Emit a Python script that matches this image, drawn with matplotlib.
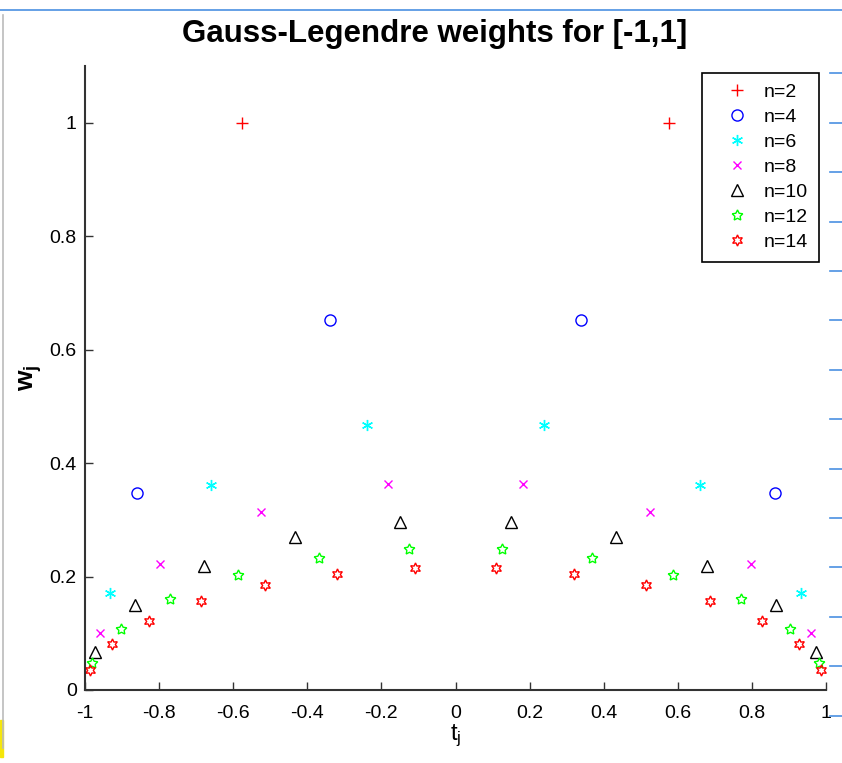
import numpy as np
import matplotlib.pyplot as plt
from matplotlib.lines import Line2D
from matplotlib.patches import Rectangle

plt.rcParams['font.family'] = ['Liberation Sans', 'DejaVu Sans']
plt.rcParams['mathtext.fontset'] = 'custom'
plt.rcParams['mathtext.rm'] = 'Liberation Sans'
plt.rcParams['mathtext.it'] = 'Liberation Sans'
plt.rcParams['mathtext.bf'] = 'Liberation Sans:bold'

# nodos y pesos
t2 = [-0.5774, 0.5774]
w2 = [1.0, 1.0]
t4 = [-0.8611, -0.3400, 0.3400, 0.8611]
w4 = [0.3479, 0.6521, 0.6521, 0.3479]
t6 = [-0.9325, -0.6612, -0.2386, 0.2386, 0.6612, 0.9325]
w6 = [0.1713, 0.3608, 0.4679, 0.4679, 0.3608, 0.1713]
t8 = [-0.9603, -0.7967, -0.5255, -0.1834, 0.1834, 0.5255, 0.7967, 0.9603]
w8 = [0.1012, 0.2224, 0.3137, 0.3627, 0.3627, 0.3137, 0.2224, 0.1012]
t10 = [-0.9739, -0.8651, -0.6794, -0.4334, -0.1489,
       0.1489, 0.4334, 0.6794, 0.8651, 0.9739]
w10 = [0.0667, 0.1495, 0.2191, 0.2693, 0.2955,
       0.2955, 0.2693, 0.2191, 0.1495, 0.0667]
t12 = [-0.9816, -0.9041, -0.7699, -0.5873, -0.3678, -0.1252,
       0.1252, 0.3678, 0.5873, 0.7699, 0.9041, 0.9816]
w12 = [0.0472, 0.1069, 0.1601, 0.2032, 0.2335, 0.2491,
       0.2491, 0.2335, 0.2032, 0.1601, 0.1069, 0.0472]
t14 = [-0.9863, -0.9284, -0.8272, -0.6873, -0.5152, -0.3191, -0.1081,
       0.1081, 0.3191, 0.5152, 0.6873, 0.8272, 0.9284, 0.9863]
w14 = [0.0351, 0.0802, 0.1215, 0.1572, 0.1855, 0.2052, 0.2153,
       0.2153, 0.2052, 0.1855, 0.1572, 0.1215, 0.0802, 0.0351]

etiquetas = ['n=2', 'n=4', 'n=6', 'n=8', 'n=10', 'n=12', 'n=14']
series = [(t2, w2), (t4, w4), (t6, w6), (t8, w8), (t10, w10), (t12, w12), (t14, w14)]
colores = ['#ff0000', '#0000ff', '#00ffff', '#ff00ff', '#000000', '#00ff00', '#ff0000']
marcadores = ['+', 'o', (6, 2, 0), 'x', '^', (5, 1, 0), (6, 1, 0)]
tamanos = [8, 8, 8, 6, 8, 8, 8]

fig = plt.figure(figsize=(8.42, 7.63), dpi=100)
ax = fig.add_axes([0.101, 0.0957, 0.880, 0.8178])

for (t, w), lab, c, mk, ms in zip(series, etiquetas, colores, marcadores, tamanos):
    lleno = mk in ('+', 'x', (6, 2, 0))
    ax.plot(t, w, linestyle='none', marker=mk, markersize=ms,
            markerfacecolor=c if lleno else 'none', markeredgecolor=c,
            markeredgewidth=1.0, label=lab)

ax.set_xlim(-1, 1)
ax.set_ylim(0, 1.1)
ax.set_xticks(np.arange(-1, 1.01, 0.2))
ax.set_xticklabels(['-1', '-0.8', '-0.6', '-0.4', '-0.2', '0', '0.2', '0.4', '0.6', '0.8', '1'])
ax.set_yticks(np.arange(0, 1.01, 0.2))
ax.set_yticklabels(['0', '0.2', '0.4', '0.6', '0.8', '1'])
ax.tick_params(direction='in', length=6, labelsize=14, width=1, color='#333333')
ax.tick_params(axis='x', pad=11)
ax.tick_params(axis='y', pad=6)
ax.spines['top'].set_visible(False)
ax.spines['right'].set_visible(False)
for s in ('left', 'bottom'):
    ax.spines[s].set_linewidth(1.5)
    ax.spines[s].set_color('#333333')

ax.set_title('Gauss-Legendre weights for [-1,1]', fontsize=22.5, fontweight='bold',
             x=0.472, pad=17)
ax.set_xlabel(r'$\mathrm{t_j}$', fontsize=17, labelpad=0)
ax.set_ylabel(r'$\mathbf{w_j}$', fontsize=19, labelpad=4)

leg = ax.legend(loc='upper right', bbox_to_anchor=(0.9906, 0.9888), borderaxespad=0,
                fontsize=14, fancybox=False, framealpha=1, edgecolor='black',
                handletextpad=0.1, borderpad=0.55, labelspacing=0.38, handlelength=2.55)
leg.get_frame().set_linewidth(1.2)

# bordes de la captura
fig.add_artist(Line2D([0, 1], [0.987, 0.987], color='#4a90e2', lw=1.2))
fig.add_artist(Line2D([0.004, 0.004], [0.02, 0.98], color='#bbbbbb', lw=1.2))
fig.add_artist(Rectangle((0, 0.008), 0.004, 0.048, color='#f5e60a'))
for yy in np.linspace(0.904, 0.062, 14):
    fig.add_artist(Line2D([0.986, 1.0], [yy, yy], color='#4a90e2', lw=1.2))

plt.savefig('out.png')
